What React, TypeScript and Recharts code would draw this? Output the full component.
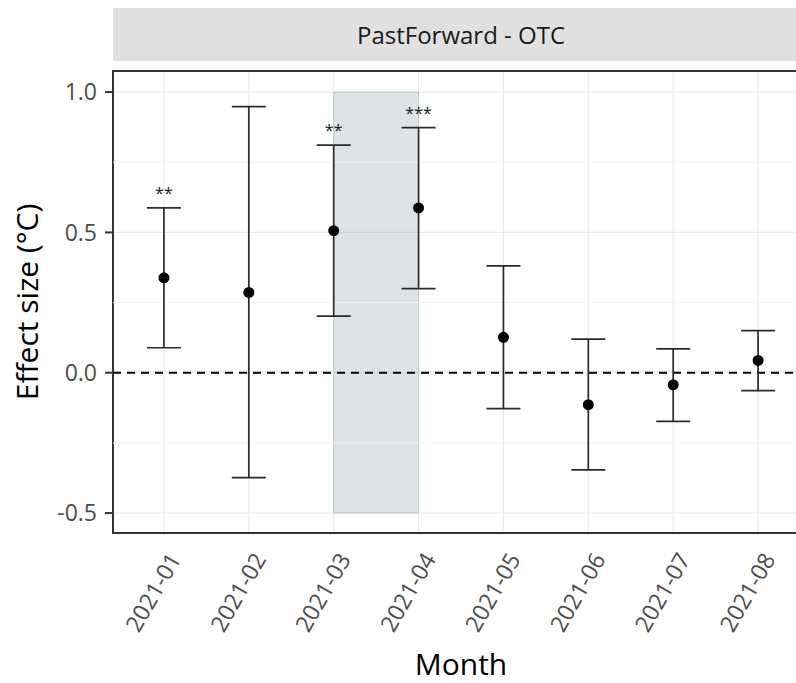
import {
  ComposedChart,
  Scatter,
  ErrorBar,
  XAxis,
  YAxis,
  CartesianGrid,
  ReferenceLine,
  ReferenceArea,
} from "recharts";

const months = ["2021-01", "2021-02", "2021-03", "2021-04", "2021-05", "2021-06", "2021-07", "2021-08"];
const estimate = [0.338, 0.286, 0.506, 0.587, 0.126, -0.114, -0.043, 0.044];
const lower = [0.089, -0.374, 0.202, 0.3, -0.128, -0.346, -0.173, -0.064];
const upper = [0.587, 0.948, 0.811, 0.873, 0.381, 0.12, 0.085, 0.15];
const signif = ["**", "", "**", "***", "", "", "", ""];

const yTicks = [-0.5, 0, 0.5, 1];
const yMinor = [-0.25, 0.25, 0.75];
const highlight = { from: "2021-03", to: "2021-04", low: -0.5, high: 1.0 };

const X_DOMAIN: [number, number] = [0.4, 8.6];
const Y_DOMAIN: [number, number] = [-0.571, 1.075];

const points = months.map((m, i) => ({
  x: i + 1,
  y: estimate[i],
  err: [estimate[i] - lower[i], upper[i] - estimate[i]],
}));

const stars = months
  .map((m, i) => ({ x: i + 1, y: upper[i], label: signif[i] }))
  .filter((d) => d.label !== "");

const FONT = "'Open Sans', 'Noto Sans', sans-serif";

// eslint-disable-next-line @typescript-eslint/no-explicit-any
const MonthTick = (props: any) => {
  const { x, y, payload } = props;
  const tx = x + 18;
  const ty = y + 26;
  return (
    <text
      x={tx}
      y={ty}
      transform={`rotate(-60, ${tx}, ${ty})`}
      textAnchor="end"
      fill="#4d4d4d"
      fontSize={23}
      fontFamily={FONT}
    >
      {months[payload.value - 1]}
    </text>
  );
};

// eslint-disable-next-line @typescript-eslint/no-explicit-any
const XTitle = (props: any) => {
  const { viewBox } = props;
  return (
    <text
      x={viewBox.x + viewBox.width / 2}
      y={viewBox.y + 142}
      textAnchor="middle"
      fontSize={30}
      fill="#000"
      fontFamily={FONT}
    >
      Month
    </text>
  );
};

// eslint-disable-next-line @typescript-eslint/no-explicit-any
const YTitle = (props: any) => {
  const { viewBox } = props;
  const cx = 38;
  const cy = viewBox.y + viewBox.height / 2;
  return (
    <text
      x={cx}
      y={cy}
      transform={`rotate(-90, ${cx}, ${cy})`}
      textAnchor="middle"
      fontSize={30}
      fill="#000"
      fontFamily={FONT}
    >
      Effect size (°C)
    </text>
  );
};

// eslint-disable-next-line @typescript-eslint/no-explicit-any
const Dot = (props: any) => <circle cx={props.cx} cy={props.cy} r={5.5} fill="#000" />;

// eslint-disable-next-line @typescript-eslint/no-explicit-any
const Stars = (props: any) => (
  <text
    x={props.cx}
    y={props.cy - 9}
    textAnchor="middle"
    fontSize={16}
    fill="#1a1a1a"
    fontFamily={FONT}
  >
    {props.payload.label}
  </text>
);

export default function App() {
  return (
    <div
      style={{
        position: "absolute",
        left: 0,
        top: 0,
        width: 796,
        height: 683,
        overflow: "hidden",
        background: "#fff",
        fontFamily: FONT,
      }}
    >
      <div
        style={{
          position: "absolute",
          left: 113,
          top: 8,
          width: 696,
          height: 53,
          background: "#e0e0e0",
          color: "#1a1a1a",
          fontSize: 24,
          lineHeight: "53px",
          textAlign: "center",
        }}
      >
        PastForward - OTC
      </div>
      <div style={{ position: "absolute", left: 0, top: 0 }}>
        <ComposedChart
          width={830}
          height={683}
          data={points}
          margin={{ top: 71, right: 21, bottom: 0, left: 0 }}
        >
          <CartesianGrid
            stroke="#ebebeb"
            strokeWidth={1.2}
            horizontalValues={yTicks}
            verticalValues={months.map((m, i) => i + 1)}
          />
          {yMinor.map((v) => (
            <ReferenceLine key={v} y={v} stroke="#f4f4f4" strokeWidth={1} />
          ))}
          <XAxis
            type="number"
            dataKey="x"
            domain={X_DOMAIN}
            ticks={months.map((m, i) => i + 1)}
            allowDataOverflow
            axisLine={false}
            tickLine={false}
            tickSize={0}
            tickMargin={0}
            height={150}
            interval={0}
            tick={<MonthTick />}
            label={<XTitle />}
          />
          <YAxis
            type="number"
            dataKey="y"
            domain={Y_DOMAIN}
            ticks={yTicks}
            allowDataOverflow
            width={113}
            axisLine={false}
            tickLine={{ stroke: "#333", strokeWidth: 2 }}
            tickSize={8}
            tickMargin={8}
            tickFormatter={(v: number) => v.toFixed(1)}
            tick={{ fill: "#4d4d4d", fontSize: 23, fontFamily: FONT }}
            label={<YTitle />}
          />
          <ReferenceArea
            x1={months.indexOf(highlight.from) + 1}
            x2={months.indexOf(highlight.to) + 1}
            y1={highlight.low}
            y2={highlight.high}
            fill="#739397"
            fillOpacity={0.25}
            stroke="#739397"
            strokeOpacity={0.3}
          />
          <ReferenceLine y={0} stroke="#000" strokeWidth={2} strokeDasharray="8 6" />
          <Scatter data={points} dataKey="y" shape={<Dot />} isAnimationActive={false}>
            <ErrorBar
              dataKey="err"
              direction="y"
              width={17}
              stroke="#2b2b2b"
              strokeWidth={1.7}
              isAnimationActive={false}
            />
          </Scatter>
          <Scatter data={stars} dataKey="y" shape={<Stars />} isAnimationActive={false} />
          <ReferenceArea
            x1={X_DOMAIN[0]}
            x2={X_DOMAIN[1]}
            y1={Y_DOMAIN[0]}
            y2={Y_DOMAIN[1]}
            fill="none"
            stroke="#333"
            strokeWidth={2}
          />
        </ComposedChart>
      </div>
    </div>
  );
}
